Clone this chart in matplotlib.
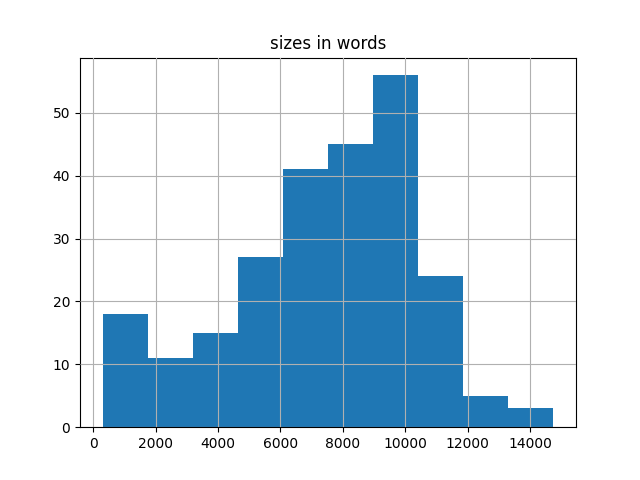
import numpy as np
import matplotlib
matplotlib.use("Agg")
import matplotlib.pyplot as plt

bin_min = 300
bin_max = 14750
counts = [18, 11, 15, 27, 41, 45, 56, 24, 5, 3]

edges = np.linspace(bin_min, bin_max, len(counts) + 1)

fig, ax = plt.subplots(figsize=(6.4, 4.8), dpi=100)
ax.hist(edges[:-1], bins=edges, weights=counts, color="#1f77b4")
ax.grid(True)
ax.set_axisbelow(False)
ax.set_title("sizes in words")
fig.savefig("out.png", dpi=100)
